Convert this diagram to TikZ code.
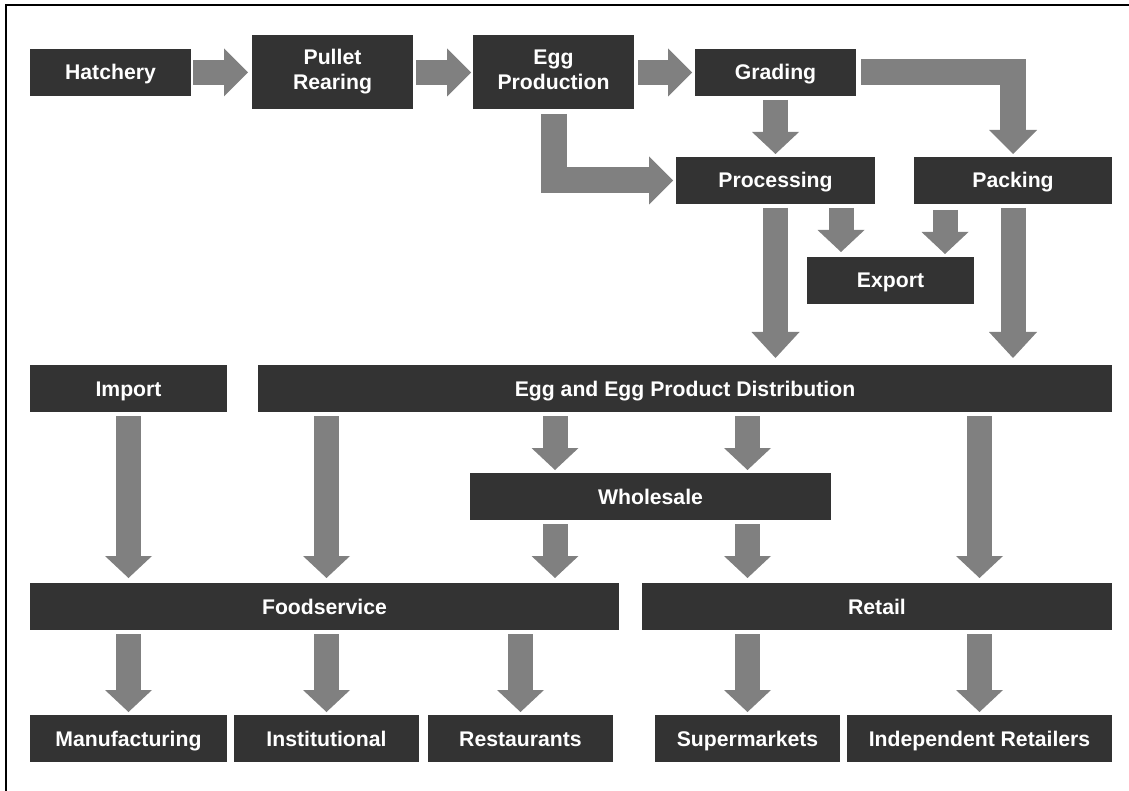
\documentclass[tikz,border=0pt]{standalone}
\usepackage{fontspec}
\setmainfont{Liberation Sans}
\usetikzlibrary{arrows.meta}
\definecolor{boxgray}{RGB}{51,51,51}
\definecolor{arrgray}{RGB}{128,128,128}
\begin{document}
\begin{tikzpicture}[x=1pt,y=-1pt,
  box/.style={fill=boxgray, text=white, inner sep=0pt, outer sep=0pt,
    minimum height=47pt, align=center, text height=15pt, text depth=0pt,
    font=\fontsize{21.2}{25}\selectfont\bfseries},
  twoline/.style={minimum height=74pt, text height=40pt, text depth=4pt},
  barrow/.style={draw=arrgray, line width=25pt, line join=miter,
    -{Triangle[width=47pt,length=22pt,line width=0pt]},
    shorten <=4pt, shorten >=3pt},
  harrow/.style={draw=arrgray, line width=25pt,
    -{Triangle[width=48pt,length=24pt,line width=0pt]},
    shorten <=3pt, shorten >=3pt},
  bentarrow/.style={draw=arrgray, line width=26pt, line join=miter,
    -{Triangle[width=48pt,length=24pt,line width=0pt]},
    shorten <=5pt, shorten >=3pt}]
\useasboundingbox (0,0) rectangle (1129,791);
\fill[white] (0,0) rectangle (1129,791);
% frame
\draw[line width=1.6pt] (6,791) -- (6,5) -- (1129,5);
% boxes
\node[box, minimum width=161pt] (hatch) at (110.5,72.5) {Hatchery};
\node[box, twoline, minimum width=161pt] (pullet) at (332.5,72) {Pullet\\Rearing};
\node[box, twoline, minimum width=161pt] (egg) at (553.5,72) {Egg\\Production};
\node[box, minimum width=161pt] (grad) at (775.5,72.5) {Grading};
\node[box, minimum width=199pt] (proc) at (775.5,180.5) {Processing};
\node[box, minimum width=198pt] (pack) at (1013,180.5) {Packing};
\node[box, minimum width=167pt] (export) at (890.5,280.5) {Export};
\node[box, minimum width=197pt] (imp) at (128.5,388.5) {Import};
\node[box, minimum width=854pt] (dist) at (685,388.5) {Egg and Egg Product Distribution};
\node[box, minimum width=361pt] (whole) at (650.5,496.5) {Wholesale};
\node[box, minimum width=589pt] (foods) at (324.5,606.5) {Foodservice};
\node[box, minimum width=470pt] (retail) at (877,606.5) {Retail};
\node[box, minimum width=197pt] (manu) at (128.5,738.5) {Manufacturing};
\node[box, minimum width=185pt] (inst) at (326.5,738.5) {Institutional};
\node[box, minimum width=185pt] (rest) at (520.5,738.5) {Restaurants};
\node[box, minimum width=185pt] (super) at (747.5,738.5) {Supermarkets};
\node[box, minimum width=265pt] (indep) at (979.5,738.5) {Independent Retailers};
% column coordinates
\coordinate (cA) at (555,0);
\coordinate (cE1) at (841,0);
\coordinate (cE2) at (945,0);
% top row arrows
\draw[harrow, shorten <=2pt, shorten >=4pt] (hatch.east) -- (hatch.east -| pullet.west);
\draw[harrow, shorten >=2pt] (pullet.east |- hatch.east) -- (hatch.east -| egg.west);
\draw[harrow, shorten <=4pt] (egg.east |- grad.east) -- (grad.west);
\draw[bentarrow] (grad.east) -| (pack.north);
\draw[bentarrow] (egg.south) |- (proc.west);
\draw[barrow] (grad.south) -- (proc.north);
% processing / packing
\draw[barrow, shorten >=7pt, -{Triangle[width=48pt,length=26pt,line width=0pt]}] (proc.south) -- (proc.south |- dist.north);
\draw[barrow, shorten >=7pt, -{Triangle[width=48pt,length=26pt,line width=0pt]}] (pack.south) -- (pack.south |- dist.north);
\draw[barrow, shorten >=5pt] (proc.south -| cE1) -- (export.north -| cE1);
\draw[barrow, shorten <=6pt] (pack.south -| cE2) -- (export.north -| cE2);
% distribution level
\draw[barrow, shorten >=5pt] (imp.south) -- (imp.south |- foods.north);
\draw[barrow, shorten >=5pt] (dist.south -| inst.north) -- (foods.north -| inst.north);
\draw[barrow] (dist.south -| cA) -- (whole.north -| cA);
\draw[barrow] (dist.south -| super.north) -- (whole.north -| super.north);
\draw[barrow, shorten >=5pt] (whole.south -| cA) -- (foods.north -| cA);
\draw[barrow, shorten >=5pt] (whole.south -| super.north) -- (retail.north -| super.north);
\draw[barrow, shorten >=5pt] (dist.south -| indep.north) -- (retail.north -| indep.north);
% bottom level
\draw[barrow] (foods.south -| manu.north) -- (manu.north);
\draw[barrow] (foods.south -| inst.north) -- (inst.north);
\draw[barrow] (foods.south -| rest.north) -- (rest.north);
\draw[barrow] (retail.south -| super.north) -- (super.north);
\draw[barrow] (retail.south -| indep.north) -- (indep.north);
\end{tikzpicture}
\end{document}
